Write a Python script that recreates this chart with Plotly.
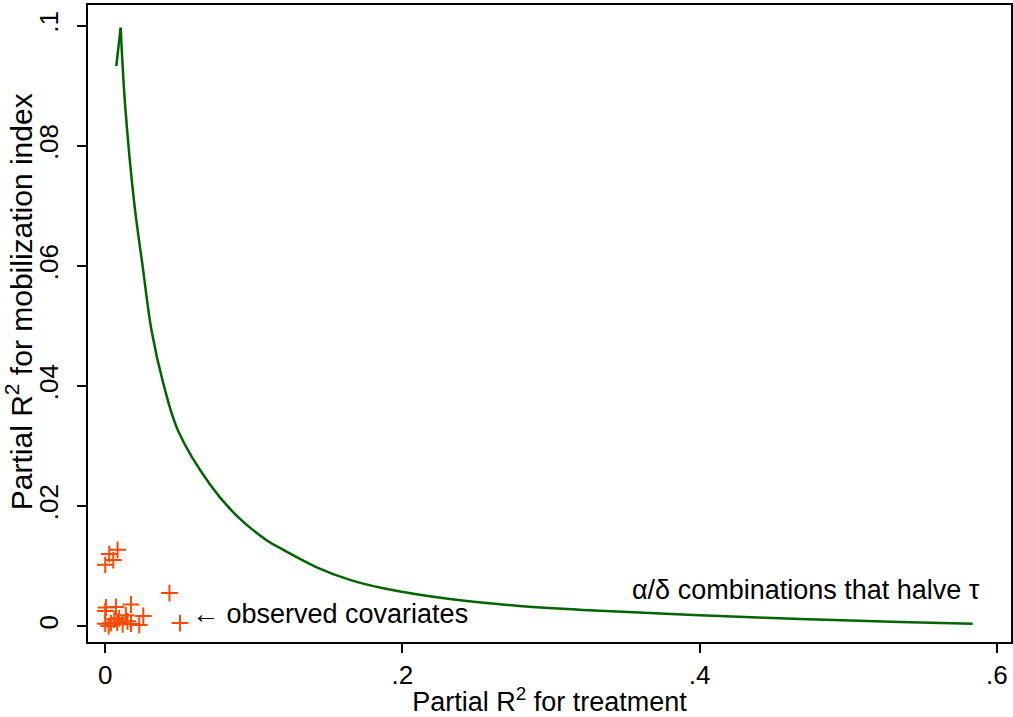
import plotly.graph_objects as go

# Curve: alpha/delta combinations that halve tau
curve_x = [0.0074, 0.0104, 0.0133, 0.0195, 0.0252, 0.0312, 0.0390, 0.0491,
           0.0705, 0.0884, 0.1086, 0.1198, 0.1423, 0.1647, 0.1871, 0.2320, 0.2768,
           0.3217, 0.3666, 0.4002, 0.4675, 0.5348, 0.5837]
curve_y = [0.0933, 0.0997, 0.0871, 0.0705, 0.0599, 0.0492, 0.0405, 0.0325,
           0.0236, 0.0184, 0.0143, 0.0127, 0.0098, 0.0077, 0.0063, 0.0045, 0.0034,
           0.0027, 0.0022, 0.0018, 0.0012, 0.0007, 0.0004]

# Observed covariates
cov_x = [0.0083, 0.0027, 0.0054, 0.0000, 0.0432, 0.0173, 0.0072, 0.0005, 0.0000, 0.0256,
         0.0139, 0.0094, 0.0503, 0.0000, 0.0038, 0.0061, 0.0117, 0.0173, 0.0229, 0.0023,
         0.0150, 0.0080]
cov_y = [0.0127, 0.0120, 0.0110, 0.0102, 0.0055, 0.0036, 0.0032, 0.0031, 0.0025, 0.0017,
         0.0018, 0.0013, 0.0005, 0.0004, 0.0005, 0.0011, 0.0003, 0.0004, 0.0002, 0.0000,
         0.0008, 0.0006]

x_ticks = [0, 0.2, 0.4, 0.6]
x_tick_labels = ["0", ".2", ".4", ".6"]
y_ticks = [0, 0.02, 0.04, 0.06, 0.08, 0.1]
y_tick_labels = ["0", ".02", ".04", ".06", ".08", ".1"]

FONT = "Liberation Sans, Arial, sans-serif"
GREEN = "#006400"
ORANGE = "#FF4800"

fig = go.Figure()
# spike segment (straight), then smooth part
fig.add_trace(go.Scatter(x=curve_x[:2], y=curve_y[:2], mode="lines",
                         line=dict(color=GREEN, width=2.5), showlegend=False))
fig.add_trace(go.Scatter(x=curve_x[1:], y=curve_y[1:], mode="lines",
                         line=dict(color=GREEN, width=2.5, shape="spline", smoothing=1.0),
                         showlegend=False))
fig.add_trace(go.Scatter(x=cov_x, y=cov_y, mode="markers",
                         marker=dict(symbol="cross-thin", size=12,
                                     line=dict(color=ORANGE, width=2)),
                         showlegend=False))

fig.add_annotation(x=0.3531, y=0.0060, text="α/δ combinations that halve τ",
                   showarrow=False, xanchor="left", yanchor="middle",
                   font=dict(family=FONT, size=27, color="black"))
fig.add_annotation(x=0.0570, y=0.0020, text="← observed covariates",
                   showarrow=False, xanchor="left", yanchor="middle",
                   font=dict(family=FONT, size=27, color="black"))
# y-axis title
fig.add_annotation(xref="paper", yref="paper", x=-0.0745, y=0.5338,
                   text="Partial R<sup>2</sup> for mobilization index", textangle=-90,
                   showarrow=False, xanchor="center", yanchor="middle",
                   font=dict(family=FONT, size=30, color="black"))

fig.update_layout(
    width=1013, height=717,
    margin=dict(l=88, r=2, t=5, b=75),
    paper_bgcolor="white", plot_bgcolor="white",
    font=dict(family=FONT, size=26, color="black"),
)
fig.update_xaxes(
    range=[-0.0116, 0.6095], tickvals=x_ticks, ticktext=x_tick_labels,
    showgrid=False, zeroline=False, showline=True, mirror=True, automargin=False,
    linecolor="black", linewidth=1.5, ticks="outside", ticklen=9, tickwidth=1.5,
    tickcolor="black", tickfont=dict(size=26), ticklabelstandoff=0,
    title=dict(text="Partial R<sup>2</sup> for treatment", font=dict(size=27), standoff=0),
)
fig.update_yaxes(
    range=[-0.00265, 0.10348], tickvals=y_ticks, ticktext=y_tick_labels,
    showgrid=False, zeroline=False, showline=True, mirror=True, automargin=False,
    linecolor="black", linewidth=1.5, ticks="outside", ticklen=9, tickwidth=1.5,
    tickcolor="black", tickangle=-90, tickfont=dict(size=26), ticklabelstandoff=9,
)

fig.write_html("out.html", config={"responsive": False, "displayModeBar": False},
               post_script="document.body.style.margin='0px';document.body.style.overflow='hidden';")
